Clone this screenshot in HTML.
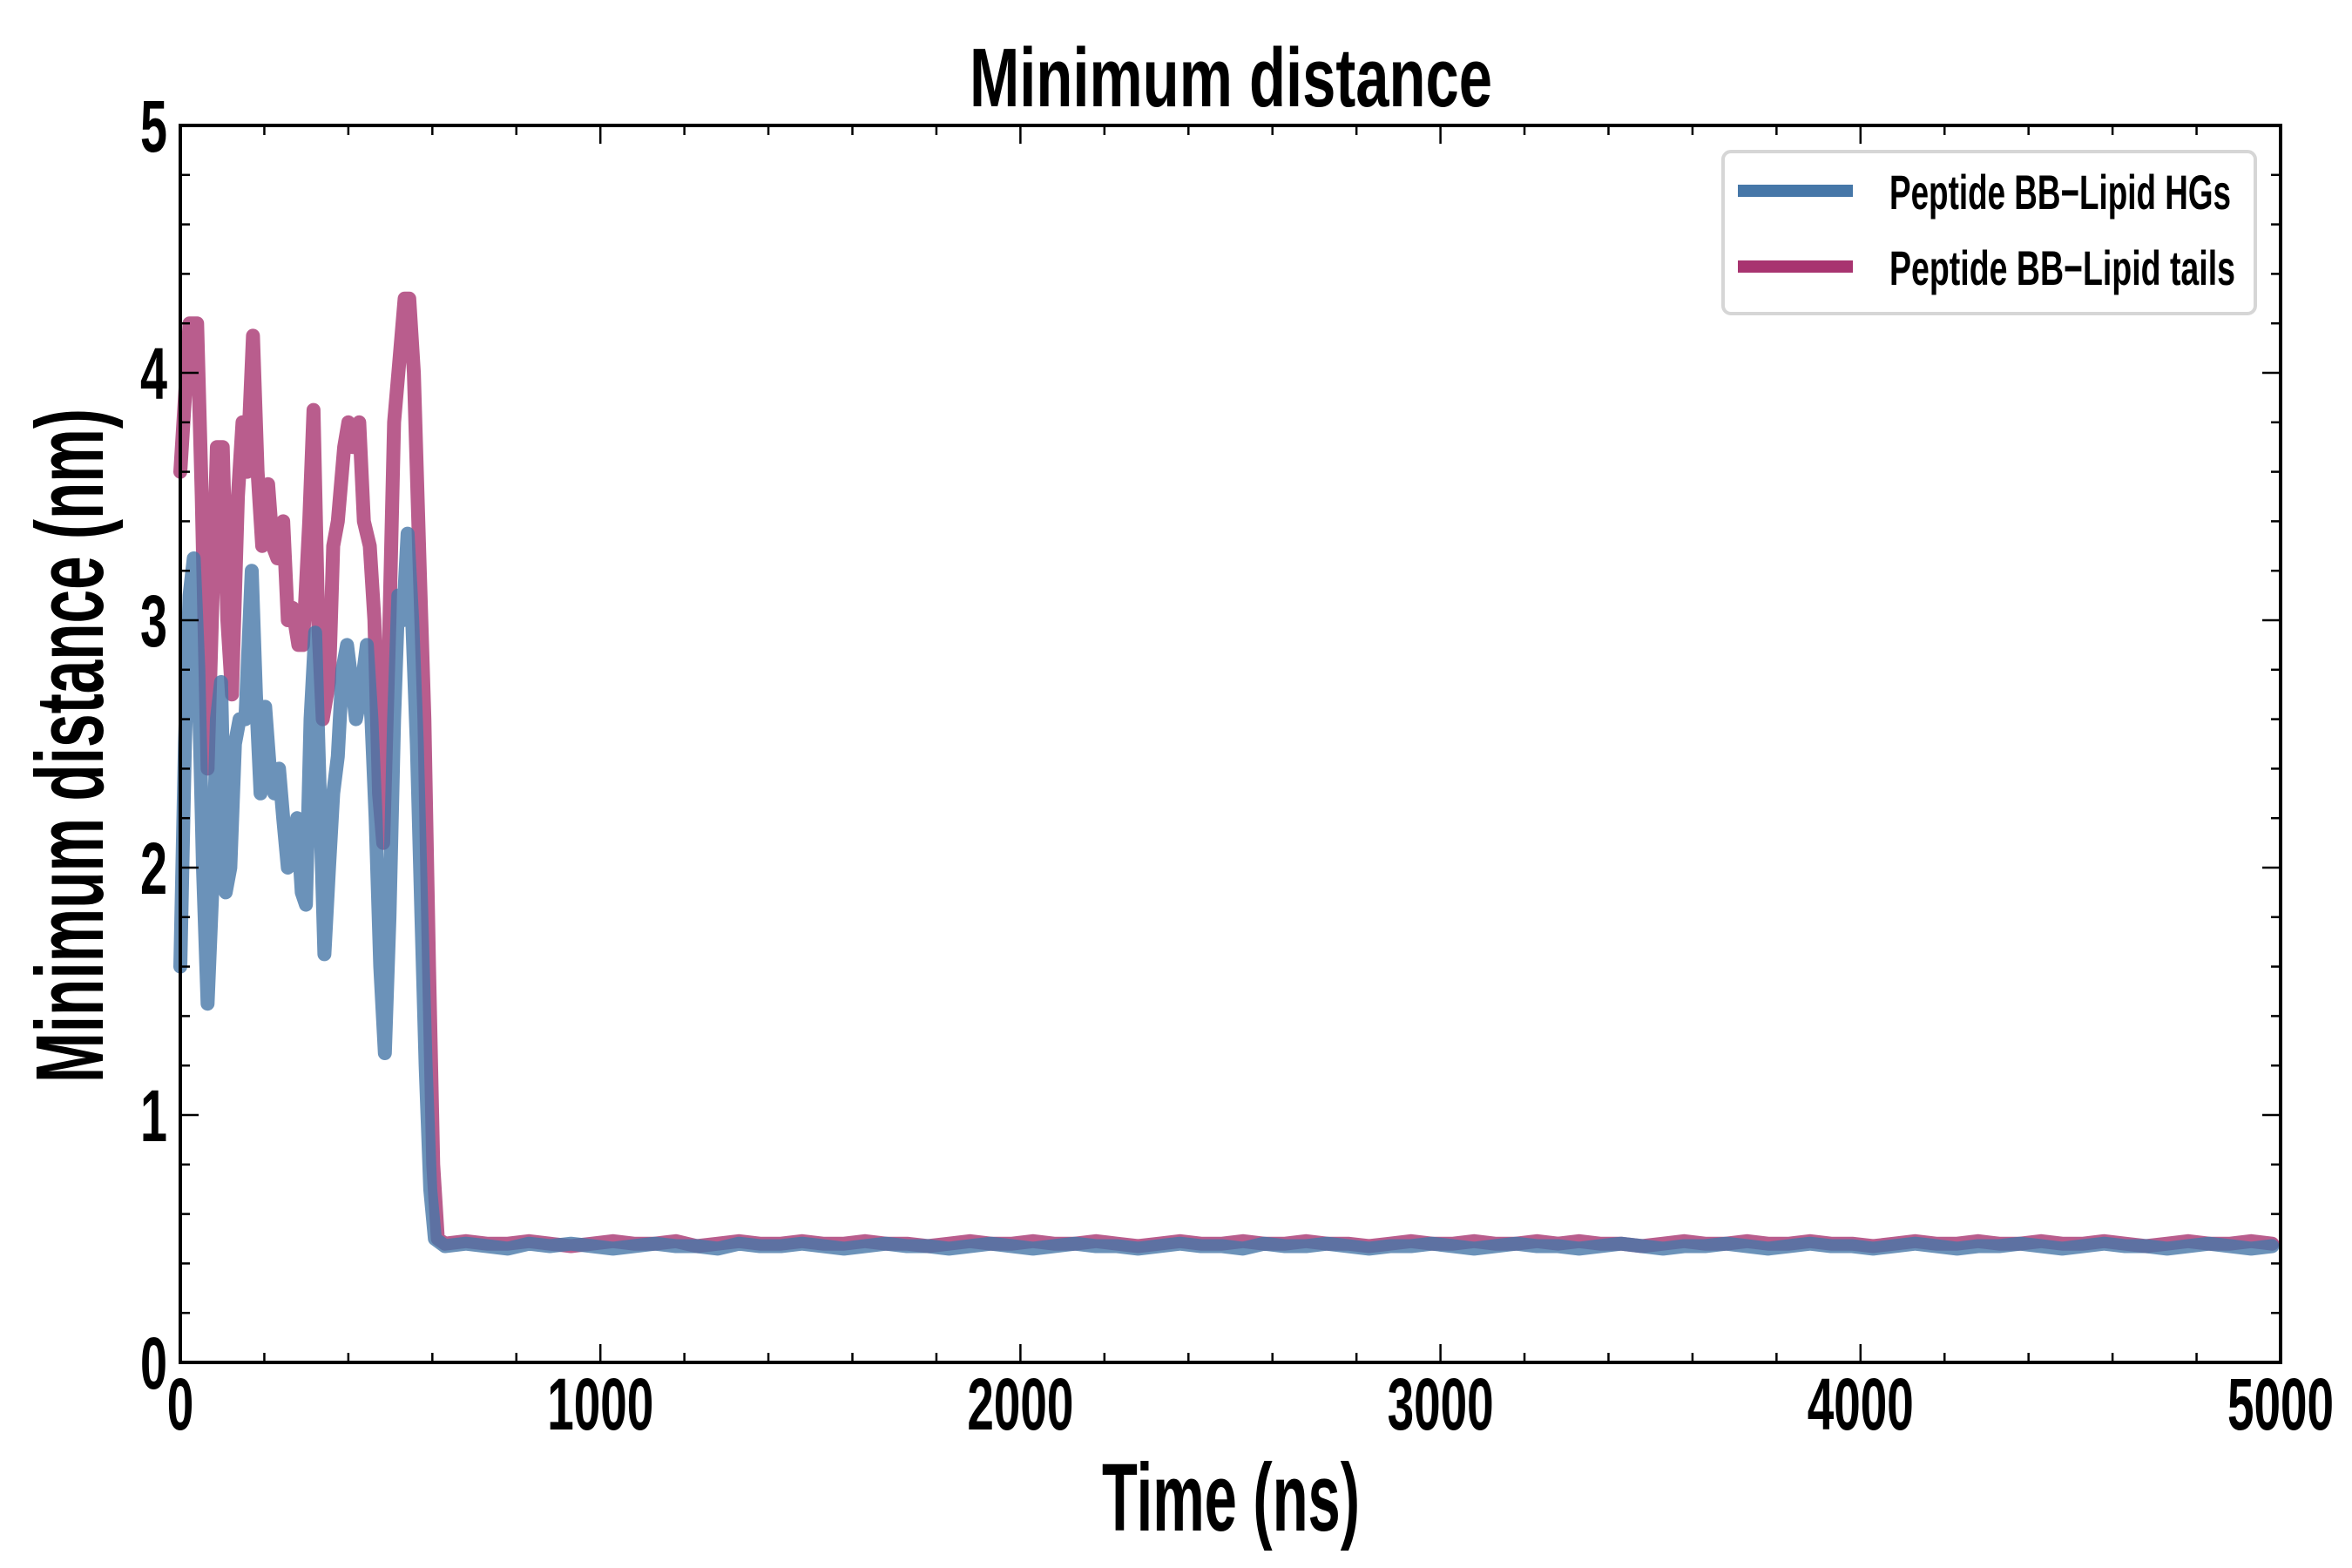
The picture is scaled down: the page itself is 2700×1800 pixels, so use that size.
<!DOCTYPE html>
<html><head><meta charset="utf-8"><style>
html,body{margin:0;padding:0;background:#fff}
svg{display:block}
text{font-family:"Liberation Sans Narrow","Liberation Sans",sans-serif;font-weight:bold;fill:#000}
</style></head><body>
<svg id="chart" width="2700" height="1800" viewBox="0 0 2700 1800" xmlns="http://www.w3.org/2000/svg">
<text x="1413" y="122" text-anchor="middle" font-size="96" textLength="600" lengthAdjust="spacingAndGlyphs">Minimum distance</text>
<text x="1413" y="1757" text-anchor="middle" font-size="110" textLength="296" lengthAdjust="spacingAndGlyphs">Time (ns)</text>
<text transform="translate(118,856) rotate(-90)" x="0" y="0" text-anchor="middle" font-size="110" textLength="774" lengthAdjust="spacingAndGlyphs">Minimum distance (nm)</text>
<g id="marks"></g>
<g id="axes"></g>
<g>
<rect x="1978" y="174" width="611" height="186" rx="9" fill="#fff" stroke="#d6d6d6" stroke-width="4"/>
<rect x="1995" y="212" width="132" height="14" fill="#4677a8"/>
<rect x="1995" y="299" width="132" height="14" fill="#a83470"/>
<text x="2169" y="240" font-size="56" textLength="392" lengthAdjust="spacingAndGlyphs">Peptide BB−Lipid HGs</text>
<text x="2169" y="327" font-size="56" textLength="397" lengthAdjust="spacingAndGlyphs">Peptide BB−Lipid tails</text>
</g>
</svg>
<script>
const xTicks=[0,1000,2000,3000,4000,5000];
const yTicks=[0,1,2,3,4,5];
const hgTimesEarly=[0,11,22,32,43,54,65,76,87,97,108,119,130,141,155,170,180,191,202,213,224,235,245,256,267,278,289,299,310,321,332,343,354,364,375,386,397,408,418,429,444,455,465,476,487,498,509,519,530,541,552,563,574,584,595,606];
const hgValuesEarly=[1.6,2.5,3.1,3.25,2.8,2.0,1.45,1.9,2.6,2.75,1.9,2.0,2.5,2.6,2.6,3.2,2.7,2.3,2.65,2.4,2.3,2.4,2.2,2.0,2.1,2.2,1.9,1.85,2.6,2.95,2.3,1.65,2.0,2.3,2.45,2.8,2.9,2.75,2.6,2.7,2.9,2.6,2.2,1.6,1.25,1.8,2.6,3.1,3.0,3.35,3.0,2.5,1.8,1.2,0.7,0.5];
const tailTimesEarly=[0,22,40,51,65,87,101,112,123,137,148,159,173,184,195,209,220,231,245,256,267,281,292,307,317,328,339,354,364,375,390,400,411,426,437,451,462,473,483,498,509,519,534,545,556,570,581,592,602,613];
const tailValuesEarly=[3.6,4.2,4.2,3.5,2.4,3.7,3.7,3.0,2.7,3.5,3.8,3.6,4.15,3.6,3.3,3.55,3.3,3.25,3.4,3.0,3.05,2.9,2.9,3.4,3.85,3.0,2.6,2.75,3.3,3.4,3.7,3.8,3.7,3.8,3.4,3.3,3.0,2.3,2.1,3.0,3.8,4.0,4.3,4.3,4.0,3.2,2.6,1.6,0.8,0.5];
const lateStart=630, lateStep=50;
const hgValuesLate=[0.47,0.48,0.47,0.46,0.48,0.47,0.48,0.47,0.46,0.47,0.48,0.47,0.47,0.46,0.48,0.47,0.47,0.48,0.47,0.46,0.47,0.48,0.47,0.47,0.46,0.47,0.48,0.47,0.46,0.47,0.48,0.47,0.47,0.46,0.47,0.48,0.47,0.47,0.46,0.48,0.47,0.47,0.48,0.47,0.46,0.47,0.47,0.48,0.47,0.46,0.47,0.48,0.47,0.47,0.46,0.47,0.48,0.47,0.46,0.47,0.47,0.48,0.47,0.46,0.47,0.48,0.47,0.47,0.46,0.47,0.48,0.47,0.46,0.47,0.47,0.48,0.47,0.46,0.47,0.48,0.47,0.47,0.46,0.47,0.48,0.47,0.46,0.47];
const tailValuesLate=[0.48,0.49,0.48,0.48,0.49,0.48,0.47,0.48,0.49,0.48,0.48,0.49,0.47,0.48,0.49,0.48,0.48,0.49,0.48,0.48,0.49,0.48,0.48,0.47,0.48,0.49,0.48,0.48,0.49,0.48,0.48,0.49,0.48,0.47,0.48,0.49,0.48,0.48,0.49,0.48,0.48,0.49,0.48,0.48,0.47,0.48,0.49,0.48,0.48,0.49,0.48,0.48,0.49,0.48,0.49,0.48,0.48,0.47,0.48,0.49,0.48,0.48,0.49,0.48,0.48,0.49,0.48,0.48,0.47,0.48,0.49,0.48,0.48,0.49,0.48,0.48,0.49,0.48,0.48,0.49,0.48,0.47,0.48,0.49,0.48,0.48,0.49,0.48];

const L=207,R=2618,T=144,B=1564;
const X=v=>L+(v/5000)*(R-L);
const Y=v=>B-(v/5)*(B-T);
const NS='http://www.w3.org/2000/svg';
const marks=document.getElementById('marks');
const axes=document.getElementById('axes');

function series(te,ve,vl,color,name){
  const pts=[];
  te.forEach((t,i)=>pts.push(X(t).toFixed(1)+','+Y(ve[i]).toFixed(1)));
  vl.forEach((v,i)=>{const t=Math.min(5000,lateStart+i*lateStep);pts.push(X(t).toFixed(1)+','+Y(v).toFixed(1));});
  const p=document.createElementNS(NS,'polyline');
  p.setAttribute('points',pts.join(' '));
  p.setAttribute('fill','none');
  p.setAttribute('stroke',color);
  p.setAttribute('stroke-width','16');
  p.setAttribute('stroke-linejoin','round');
  p.setAttribute('stroke-linecap','round');
  p.setAttribute('opacity','0.8');
  
  
  marks.appendChild(p);
}
series(tailTimesEarly,tailValuesEarly,tailValuesLate,'#a83470','series-lipid-tails');
series(hgTimesEarly,hgValuesEarly,hgValuesLate,'#4677a8','series-lipid-hgs');

function line(x1,y1,x2,y2,w,name){
  const l=document.createElementNS(NS,'line');
  l.setAttribute('x1',x1);l.setAttribute('y1',y1);l.setAttribute('x2',x2);l.setAttribute('y2',y2);
  l.setAttribute('stroke','#000');l.setAttribute('stroke-width',w);
  
  
  axes.appendChild(l);
}
const frame=document.createElementNS(NS,'rect');
frame.setAttribute('x',L);frame.setAttribute('y',T);frame.setAttribute('width',R-L);frame.setAttribute('height',B-T);
frame.setAttribute('fill','none');frame.setAttribute('stroke','#000');frame.setAttribute('stroke-width','4');


axes.appendChild(frame);
for(let v=0;v<=5000;v+=200){
  const major=v%1000===0, len=major?21:11, x=X(v);
  line(x,B,x,B-len,2.5,'x-tick');
  line(x,T,x,T+len,2.5,'x-tick-top');
}
for(let k=0;k<=25;k++){
  const v=k*0.2, major=k%5===0, len=major?21:11, y=Y(v);
  line(L,y,L+len,y,2.5,'y-tick');
  line(R,y,R-len,y,2.5,'y-tick-right');
}
xTicks.forEach(v=>{
  const t=document.createElementNS(NS,'text');
  t.setAttribute('x',X(v));t.setAttribute('y',1641);t.setAttribute('text-anchor','middle');
  t.setAttribute('font-size','84');
  const s=String(v);
  t.setAttribute('textLength',s.length*30.5);t.setAttribute('lengthAdjust','spacingAndGlyphs');
  t.textContent=s;
  
  
  axes.appendChild(t);
});
yTicks.forEach(v=>{
  const t=document.createElementNS(NS,'text');
  t.setAttribute('x',192);t.setAttribute('y',Y(v)+30);t.setAttribute('text-anchor','end');
  t.setAttribute('font-size','84');
  t.setAttribute('textLength',31);t.setAttribute('lengthAdjust','spacingAndGlyphs');
  t.textContent=String(v);
  
  
  axes.appendChild(t);
});
</script>
</body></html>
